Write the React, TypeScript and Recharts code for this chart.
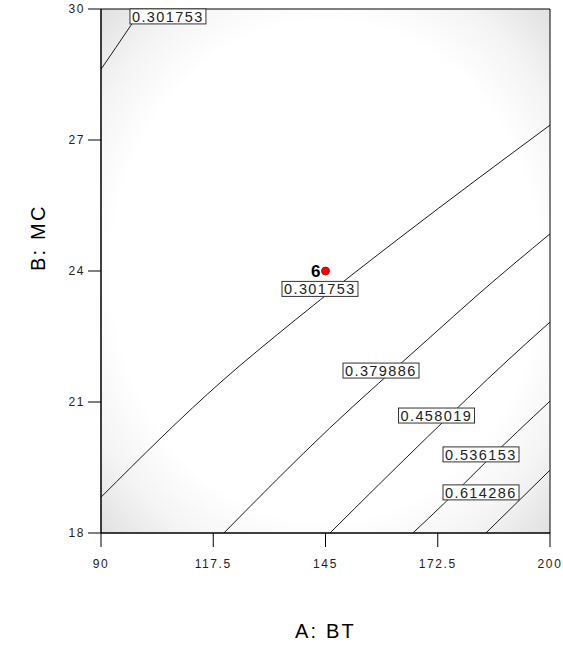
import React from "react";
import { ComposedChart, Line, XAxis, YAxis, ReferenceArea, ReferenceDot } from "recharts";

// axis ticks
const btTicks = [90, 117.5, 145, 172.5, 200];
const mcTicks = [18, 21, 24, 27, 30];

// contour lines (A: BT on x, B: MC on y)
const contourLevels = ["0.301753", "0.301753", "0.379886", "0.458019", "0.536153", "0.614286"];
const contourBT = [
  [90, 97.35, 100],
  [90, 119.9, 137.6, 162.5, 182.85, 200],
  [120.1, 146.0, 169.9, 182.85, 200],
  [146.1, 170, 189.7, 200],
  [166.4, 174.2, 184.0, 200],
  [184.3, 200],
];
const contourMC = [
  [28.62, 29.63, 30],
  [18.82, 21.5, 22.88, 24.71, 26.15, 27.34],
  [18, 20.4, 22.42, 23.5, 24.85],
  [18, 20.2, 21.96, 22.83],
  [18, 18.69, 19.6, 21.02],
  [18, 19.44],
];

// where each contour value is printed
const labelBT = [106.4, 143.65, 158.6, 172.2, 183.1, 183.1];
const labelMC = [29.83, 23.59, 21.72, 20.69, 19.8, 18.93];

// design point
const designBT = [145];
const designMC = [24];
const designRun = ["6"];

const font = "'Liberation Sans', Arial, sans-serif";

const contours = contourBT.map((xs, i) => xs.map((x, j) => ({ x, y: contourMC[i][j] })));

const ContourLabel = (props: any) => {
  const { cx, cy, text } = props;
  return (
    <g>
      <rect x={cx - 38} y={cy - 7.5} width={76} height={15} fill="#fff" stroke="#333" strokeWidth={1} />
      <text x={cx - 36} y={cy + 5.5} fontSize={14.5} fontFamily={font} letterSpacing={1.4} fill="#222">
        {text}
      </text>
    </g>
  );
};

const DesignPoint = (props: any) => {
  const { cx, cy, text } = props;
  return (
    <g>
      <text x={cx - 5} y={cy + 6} textAnchor="end" fontSize={17} fontWeight="bold" fontFamily={font} fill="#000">
        {text}
      </text>
      <circle cx={cx} cy={cy} r={4} fill="#ff0000" stroke="#a00000" strokeWidth={0.8} />
    </g>
  );
};

export default function App() {
  return (
    <div style={{ position: "absolute", left: 0, top: 0, background: "#fff" }}>
      <ComposedChart width={563} height={649} margin={{ top: 9, right: 13, bottom: 0, left: 0 }}>
        <defs>
          <radialGradient id="bgShade" cx="0.5" cy="0.5" r="0.72">
            <stop offset="0" stopColor="#ffffff" />
            <stop offset="0.66" stopColor="#ffffff" />
            <stop offset="0.82" stopColor="#f4f4f4" />
            <stop offset="1" stopColor="#dedede" />
          </radialGradient>
        </defs>
        <XAxis
          type="number"
          dataKey="x"
          domain={[90, 200]}
          ticks={btTicks}
          allowDataOverflow
          height={116}
          tickSize={14}
          tickMargin={12}
          stroke="#000"
          tick={{ fontSize: 12, fontFamily: font, fill: "#222", letterSpacing: 1.6 }}
          tickFormatter={(v: number) => String(v)}
          label={{ value: "A: BT", position: "insideBottom", offset: 11, fontSize: 20, fontFamily: font, fill: "#000", letterSpacing: 2.2 }}
        />
        <YAxis
          type="number"
          dataKey="y"
          domain={[18, 30]}
          ticks={mcTicks}
          allowDataOverflow
          width={101}
          tickSize={13}
          tickMargin={3}
          stroke="#000"
          tick={{ fontSize: 12, fontFamily: font, fill: "#222", letterSpacing: 1.6 }}
          label={{ value: "B: MC", angle: -90, position: "insideLeft", offset: 38, fontSize: 20, fontFamily: font, fill: "#000", letterSpacing: 2.2 }}
        />
        <ReferenceArea x1={90} x2={200} y1={18} y2={30} fill="url(#bgShade)" fillOpacity={1} stroke="#000" strokeWidth={1} />
        {contours.map((d, i) => (
          <Line
            key={i}
            data={d}
            dataKey="y"
            type="monotone"
            stroke="#1a1a1a"
            strokeWidth={1}
            dot={false}
            activeDot={false}
            isAnimationActive={false}
          />
        ))}
        {labelBT.map((x, i) => (
          <ReferenceDot
            key={"l" + i}
            x={x}
            y={labelMC[i]}
            r={0}
            shape={(p: any) => <ContourLabel {...p} text={contourLevels[i]} />}
          />
        ))}
        {designBT.map((x, i) => (
          <ReferenceDot
            key={"d" + i}
            x={x}
            y={designMC[i]}
            r={4}
            shape={(p: any) => <DesignPoint {...p} text={designRun[i]} />}
          />
        ))}
      </ComposedChart>
    </div>
  );
}
